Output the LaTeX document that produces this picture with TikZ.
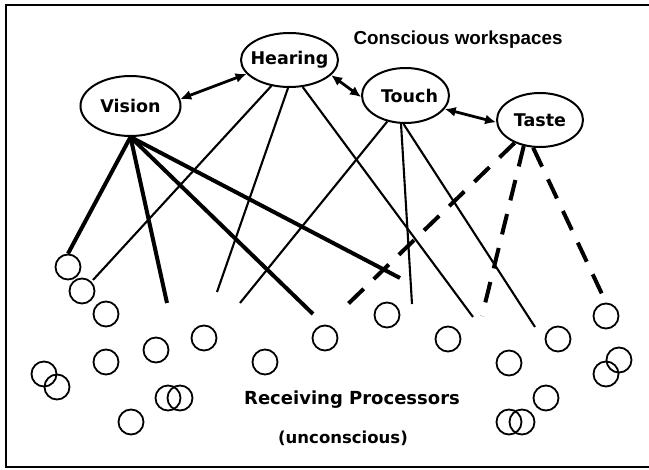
\documentclass[tikz,border=0pt]{standalone}
\usepackage{fontspec}
\setsansfont{DejaVu Sans}
\newfontfamily\headfont{Liberation Sans}
\usetikzlibrary{arrows.meta,shapes.geometric}
\begin{document}
\begin{tikzpicture}[x=1pt,y=-1pt,
  ws/.style={ellipse,draw,line width=2pt,inner sep=0pt,font=\sffamily\bfseries\fontsize{17.5}{20}\selectfont},
  proc/.style={circle,draw,line width=1.8pt,minimum size=25pt,inner sep=0pt},
  thickline/.style={line width=4pt},
  thinline/.style={line width=2.1pt},
  dashline/.style={line width=4pt,dash pattern=on 21pt off 14pt},
  link/.style={line width=2.8pt,{Latex[length=11pt,width=10pt]}-{Latex[length=11pt,width=10pt]}},
  frameline/.style={line width=2.4pt},
  caption/.style={anchor=base,inner sep=0pt,font=\sffamily\bfseries\fontsize{18}{20}\selectfont},
  headline/.style={anchor=base,inner sep=0pt,font=\headfont\bfseries\fontsize{18.8}{21}\selectfont}
]
\fill[white] (0,0) rectangle (649,470);
\useasboundingbox (0,0) rectangle (649,470);
\draw[frameline] (649,5) -- (6,5) -- (6,467) -- (649,467);

% workspaces
\node[ws,minimum width=100pt,minimum height=60pt] (vision) at (130.5,106) {\makebox[0pt]{Vision}};
\node[ws,minimum width=97pt,minimum height=54pt] (hearing) at (289.5,60) {\makebox[0pt]{Hearing}};
\node[ws,minimum width=87pt,minimum height=55pt] (touch) at (405.5,95.5) {\makebox[0pt]{\hspace*{8pt}Touch}};
\node[ws,minimum width=86pt,minimum height=54pt] (taste) at (540,120) {\makebox[0pt]{Taste}};

\node[headline] (title) at (458,44.5) {Conscious workspaces};
\node[caption] (recv) at (352,405) {Receiving Processors};
\node[caption,font=\sffamily\bfseries\fontsize{16.5}{20}\selectfont] (uncon) at (343,444) {(unconscious)};

% receiving processors
\foreach \n/\x/\y in {c1/68/267, c2/82/291, c3/106/314, c4/106/362, c5/156/350,
  c6/204/338, c7/265/362, c8/44/374, c9/57/387, c10/168/398, c11/180/398,
  c12/131/422, c13/325/338, c14/387/315, c15/448/339, c16/509/363,
  c17/558/339, c18/546/398, c19/509/422, c20/522/422, c21/606/316,
  c22/606/374, c23/619/360}
  \node[proc] (\n) at (\x,\y) {};

% free ends
\coordinate (v2) at (167,303);
\coordinate (v3) at (313,314);
\coordinate (v4) at (400,278);
\coordinate (h1) at (93,280);
\coordinate (h2) at (217,292);
\coordinate (h3) at (473,317);
\coordinate (t1) at (240,303);
\coordinate (t2) at (412,304);
\coordinate (t3) at (535,327);
\coordinate (d1) at (348,304);
\coordinate (d2) at (482,316);

% vision connections
\draw[thickline] (vision.south) -- (c1.north);
\draw[thickline] (vision.south) -- (v2);
\draw[thickline] (vision.south) -- (v3);
\draw[thickline] (vision.south) -- (v4);
% hearing connections
\draw[thinline] (hearing.235) -- (h1);
\draw[thinline] (hearing.267) -- (h2);
\draw[thinline] (hearing.296) -- (h3);
% touch connections
\draw[thinline] (touch.235) -- (t1);
\draw[thinline] (touch.261) -- (t2);
\draw[thinline] (touch.266) -- (t3);
% taste connections
\draw[dashline] (taste.222) -- (d1);
\draw[dashline] (taste.238) -- (d2);
\draw[dashline] (taste.256) -- (c21.north);

% links between workspaces
\draw[link] (vision.8) -- (hearing.198);
\draw[link] (hearing.340) -- (touch.182);
\draw[link] (touch.341) -- (taste.183);
\end{tikzpicture}
\end{document}
